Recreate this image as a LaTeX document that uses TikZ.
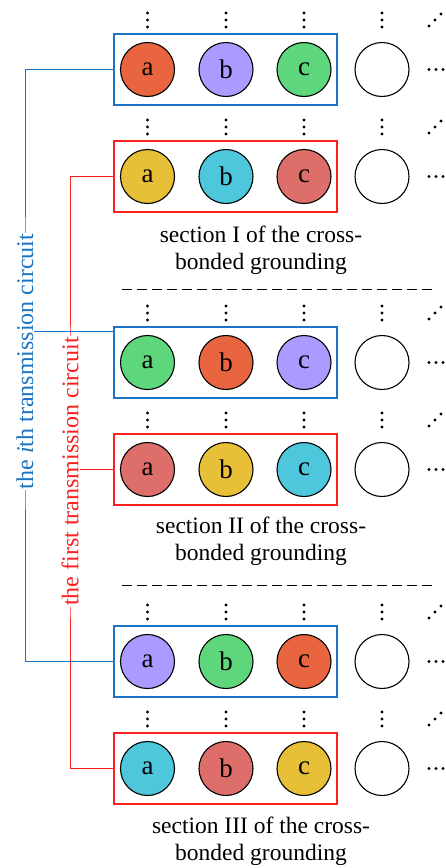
\documentclass[tikz,border=0pt]{standalone}
\usepackage{fontspec}
\setmainfont{Liberation Serif}

% phase fill colours
\definecolor{cOrange}{HTML}{E86540}
\definecolor{cPurple}{HTML}{A99BFF}
\definecolor{cGreen}{HTML}{5ED67C}
\definecolor{cYellow}{HTML}{E8C038}
\definecolor{cCyan}{HTML}{4EC6DC}
\definecolor{cSalmon}{HTML}{DE6E6A}
% circuit colours
\definecolor{lineBlue}{HTML}{1C74C4}
\definecolor{lineRed}{HTML}{FF1E1E}

\pgfdeclarelayer{bg}
\pgfsetlayers{bg,main}

\tikzset{
  phase/.style={circle, draw=black, line width=1.1pt, minimum size=54pt,
                inner sep=0pt, font=\fontsize{27}{27}\selectfont},
  groupbox/.style={draw, line width=1.1pt, minimum width=223pt,
                   minimum height=71pt, inner sep=0pt},
  bluebox/.style={groupbox, draw=lineBlue},
  redbox/.style={groupbox, draw=lineRed},
  caption/.style={align=center, font=\fontsize{23.5}{27}\selectfont},
  circuitlabel/.style={rotate=90, fill=white, inner sep=1pt,
                       font=\fontsize{24}{24}\selectfont},
  blueline/.style={draw=lineBlue, line width=1pt},
  redline/.style={draw=lineRed, line width=1pt},
  sepline/.style={draw=black, line width=1pt, dash pattern=on 10pt off 5pt},
  dotmark/.style={fill=black},
}

\begin{document}
\begin{tikzpicture}[x=1pt, y=-1pt]
\useasboundingbox (0,0) rectangle (445,868);

% six rows of cable groups: row / height / frame / phases a, b, c
\foreach \r/\y/\bx/\ca/\cb/\cc in {
  1/69.5/bluebox/cOrange/cPurple/cGreen,
  2/176.5/redbox/cYellow/cCyan/cSalmon,
  3/362.5/bluebox/cGreen/cOrange/cPurple,
  4/469.5/redbox/cSalmon/cYellow/cCyan,
  5/661.5/bluebox/cPurple/cGreen/cOrange,
  6/768.5/redbox/cCyan/cSalmon/cYellow}{
  \node[\bx] (box\r) at (225.5,\y) {};
  \node[phase, fill=\ca] (p\r a) at (147.5,\y) {a};
  \node[phase, fill=\cb] (p\r b) at (226,\y) {b};
  \node[phase, fill=\cc] (p\r c) at (304,\y) {c};
  \node[phase, fill=white] (p\r d) at (382,\y) {};
  % vertical ellipses above each cable
  \foreach \x in {147.5,226,304,382}
    \foreach \k in {-7,0,7}
      \fill[dotmark] (\x,\y-49.5+\k) circle (1.6pt);
  % diagonal ellipsis
  \foreach \k in {-1,0,1}
    \fill[dotmark] (435+6*\k,\y-49.5-6*\k) circle (1.6pt);
  % horizontal ellipsis
  \foreach \k in {0,1,2}
    \fill[dotmark] (429+7*\k,\y) circle (1.6pt);
}

% section captions
\node[caption] (sec1) at (261,250.5) {section I of the cross-\\bonded grounding};
\node[caption] (sec2) at (261,541.5) {section II of the cross-\\bonded grounding};
\node[caption] (sec3) at (261,841) {section III of the cross-\\bonded grounding};

% section separators
\draw[sepline] (122,289) -- (432,289);
\draw[sepline] (122,585) -- (432,585);

% circuit labels
\node[circuitlabel, text=lineBlue] (ith) at (25,361.5)
  {the \textit{i}th transmission circuit};
\node[circuitlabel, text=lineRed] (first) at (70,471.5)
  {the first transmission circuit};

\coordinate (tap3) at ([yshift=-5pt]box3.north west);

\begin{pgfonlayer}{bg}
  \draw[redline] (box2.west) -| (first.center) |- (box6.west);
  \draw[redline] (first.center |- box4.west) -- (box4.west);
  \draw[blueline] (box1.west) -| (ith.center) |- (box5.west);
  \draw[blueline] (ith.center |- tap3) -- (tap3);
\end{pgfonlayer}
\end{tikzpicture}
\end{document}
